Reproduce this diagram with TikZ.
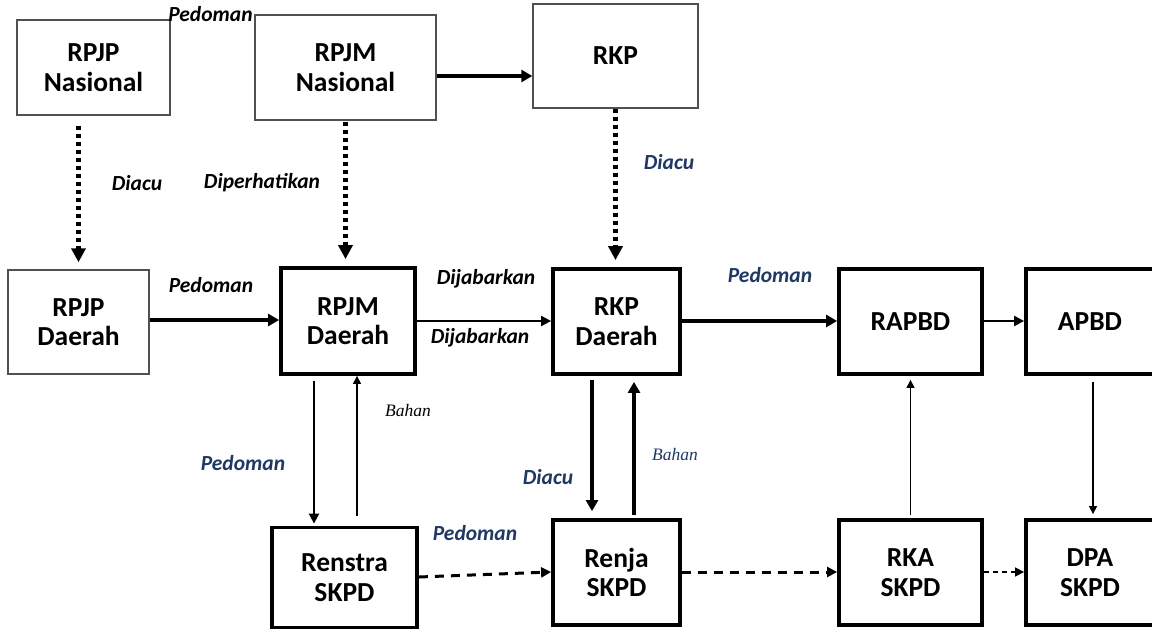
\documentclass[tikz,border=0pt]{standalone}
\usepackage{fontspec}
\setmainfont{Carlito}
\newfontfamily\bahanfont{Liberation Serif}
\usetikzlibrary{arrows.meta,calc}
\definecolor{navy}{RGB}{31,56,100}
\definecolor{thinborder}{RGB}{80,80,80}
\begin{document}
\begin{tikzpicture}[x=1pt,y=-1pt,
  box/.style={rectangle, inner sep=0pt, align=center, font=\fontsize{27.5}{29.5}\selectfont\bfseries},
  thinbox/.style={box, draw=thinborder, line width=1.4pt},
  thickbox/.style={box, draw=black, line width=3.8pt},
  lbl/.style={font=\fontsize{21.5}{23}\selectfont\bfseries\itshape, inner sep=0pt},
  nlbl/.style={lbl, text=navy},
  blbl/.style={font=\bahanfont\fontsize{17.5}{19}\selectfont\itshape, inner sep=0pt},
  arr/.style={-{Triangle[length=9pt,width=9pt]}},
  wthick/.style={arr, line width=3.4pt, -{Triangle[length=11pt,width=12pt]}},
  wmed/.style={arr, line width=2.2pt, -{Triangle[length=10pt,width=10pt]}},
  wthin/.style={arr, line width=1.3pt, -{Triangle[length=8pt,width=8pt]}},
  dotarr/.style={line width=5pt, dash pattern=on 4.5pt off 3.5pt, -{Triangle[length=14pt,width=14pt]}},
  dasharr/.style={line width=3pt, dash pattern=on 9pt off 7pt, -{Triangle[length=10pt,width=10pt]}},
  dashthin/.style={line width=1.6pt, dash pattern=on 5pt off 4pt, -{Triangle[length=9pt,width=9pt]}}
]
\useasboundingbox (0,0) rectangle (1152,629);
\fill[white] (0,0) rectangle (1152,629);

% boxes
\node[thinbox, minimum width=153pt, minimum height=95pt] (rpjpn) at (93.5,67.5) {RPJP\\Nasional};
\node[thinbox, minimum width=181pt, minimum height=105pt] (rpjmn) at (345.5,67.5) {RPJM\\Nasional};
\node[thinbox, minimum width=165pt, minimum height=104pt] (rkp) at (615.5,56) {RKP};
\node[thinbox, minimum width=141pt, minimum height=104pt] (rpjpd) at (78.5,322) {RPJP\\Daerah};
\node[thickbox, minimum width=134pt, minimum height=106pt] (rpjmd) at (348,321) {RPJM\\Daerah};
\node[thickbox, minimum width=127pt, minimum height=105pt] (rkpd) at (616.5,321.5) {RKP\\Daerah};
\node[thickbox, minimum width=143pt, minimum height=105pt] (rapbd) at (910.5,321.5) {RAPBD};
\node[thickbox, minimum width=128pt, minimum height=105pt] (apbd) at (1090,321.5) {APBD};
\node[thickbox, minimum width=145pt, minimum height=100pt] (renstra) at (344.5,577.5) {Renstra\\SKPD};
\node[thickbox, minimum width=127pt, minimum height=105pt] (renja) at (616.5,572.5) {Renja\\SKPD};
\node[thickbox, minimum width=143pt, minimum height=105pt] (rka) at (910.5,572.5) {RKA\\SKPD};
\node[thickbox, minimum width=128pt, minimum height=105pt] (dpa) at (1090,572.5) {DPA\\SKPD};

% connectors
\draw[wthick] (rpjmn.east |- 0,76) -- (rkp.west |- 0,76);
\draw[dotarr, shorten <=10pt, shorten >=7pt] (rpjpn.south -| rpjpd.north) -- (rpjpd.north);
\draw[dotarr, shorten <=1pt, shorten >=7pt] (rpjmn.south) -- (rpjmn.south |- rpjmd.north);
\draw[dotarr, shorten >=7pt] (rkp.south) -- (rkp.south |- rkpd.north);
\draw[wthick] (rpjpd.east |- 0,320) -- (rpjmd.west |- 0,320);
\draw[wmed] (rpjmd.east |- 0,321) -- (rkpd.west |- 0,321);
\draw[wthick] (rkpd.east |- 0,321) -- (rapbd.west |- 0,321);
\draw[wmed] (rapbd.east |- 0,321) -- (apbd.west |- 0,321);
\draw[wmed, shorten <=5pt, shorten >=2pt] (rpjmd.south -| 314,0) -- (renstra.north -| 314,0);
\draw[wthin, shorten <=10pt, shorten >=0pt] (renstra.north -| 357,0) -- (rpjmd.south -| 357,0);
\draw[wthick, shorten <=4pt, shorten >=7pt] (rkpd.south -| 592,0) -- (renja.north -| 592,0);
\draw[wthick, shorten <=3pt, shorten >=6pt] (renja.north -| 634,0) -- (rkpd.south -| 634,0);
\draw[wthin, shorten <=3pt, shorten >=4pt] (rka.north) -- (rapbd.south);
\draw[wthin, shorten <=6pt, shorten >=4pt] (apbd.south -| 1093,0) -- (dpa.north -| 1093,0);
\draw[dasharr] (renstra.east |- 0,577) -- (renja.west |- 0,572);
\draw[dasharr] (renja.east |- 0,572) -- (rka.west |- 0,572);
\draw[dashthin] (rka.east |- 0,572) -- (dpa.west |- 0,572);

% labels
\node[lbl] (lp1) at (210.5,14) {Pedoman};
\node[lbl] (ld1) at (137,183) {Diacu};
\node[lbl] (ldp) at (262,183) {Diperhatikan};
\node[nlbl] (ld2) at (669,162) {Diacu};
\node[lbl] (lp2) at (211,285) {Pedoman};
\node[lbl] (lj1) at (486,279) {Dijabarkan};
\node[lbl] (lj2) at (480,338) {Dijabarkan};
\node[blbl] (lb1) at (408,411) {Bahan};
\node[nlbl] (lp3) at (243,463) {Pedoman};
\node[nlbl] (lp4) at (475,533) {Pedoman};
\node[nlbl] (ld3) at (548,477) {Diacu};
\node[blbl, text=navy] (lb2) at (675,455) {Bahan};
\node[nlbl] (lp5) at (770,275) {Pedoman};
\end{tikzpicture}
\end{document}
